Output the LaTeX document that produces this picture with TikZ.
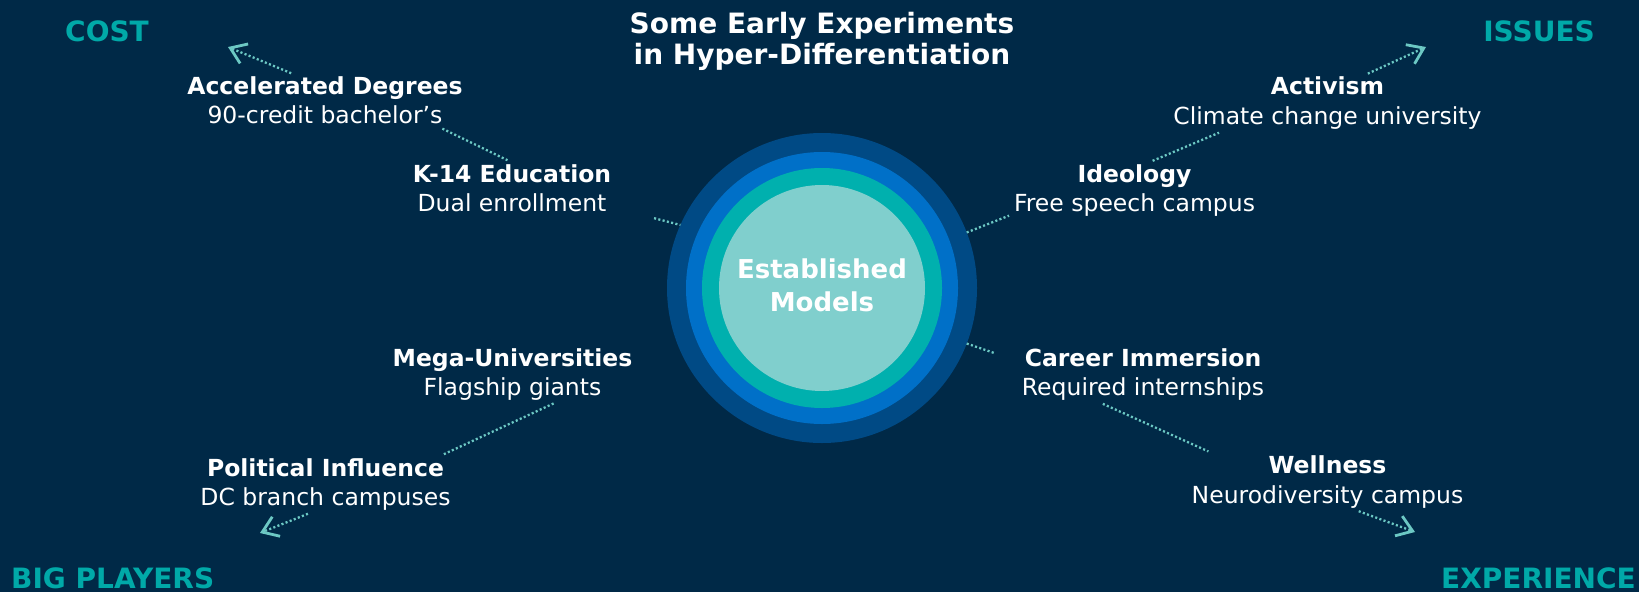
\documentclass[tikz,border=0pt]{standalone}
\usepackage{fontspec}
\setmainfont{DejaVu Sans}
\usepackage{xcolor}
\usetikzlibrary{arrows.meta}

\definecolor{navybg}{HTML}{002947}
\definecolor{ringdark}{HTML}{004A85}
\definecolor{ringblue}{HTML}{0070C8}
\definecolor{ringteal}{HTML}{00B0AE}
\definecolor{corelight}{HTML}{80CFCD}
\definecolor{cornerteal}{HTML}{00A9A8}
\definecolor{dotteal}{HTML}{6CC8C4}

\begin{document}
\begin{tikzpicture}[
        x=1pt, y=-1pt,
        item/.style={align=center, text=white, inner sep=2pt, font=\fontsize{23.5}{29.5}\selectfont},
        corner/.style={text=cornerteal, inner sep=0pt, font=\fontsize{28}{30}\selectfont\bfseries},
        ring/.style={circle, inner sep=0pt, outer sep=0pt, minimum size=#1},
        link/.style={draw=dotteal, line width=2.3pt, dash pattern=on 2.1pt off 2.3pt},
        arrow/.style={link, -{Straight Barb[length=15pt, width=21pt, line width=2.8pt]}}
    ]

    \path[use as bounding box, fill=navybg] (0,0) rectangle (1639,592);

    % Rings
    \node[ring=310pt, fill=ringdark] (outer) at (822,288) {};
    \node[ring=272pt, fill=ringblue] (middle) at (outer) {};
    \node[ring=240pt, fill=ringteal] (inner) at (outer) {};
    \node[ring=206pt, fill=corelight] (core) at (outer) {};
    \node[align=center, text=white, font=\fontsize{26}{33.5}\selectfont\bfseries, yshift=2.5pt] (models) at (core) {Established\\Models};

    % Title and corners
    \node[align=center, text=white, inner sep=0pt, font=\fontsize{28}{31.4}\selectfont\bfseries] (title) at (822,41.5) {Some Early Experiments\\in Hyper-Differentiation};
    \node[corner, anchor=west] (cost) at (65,31.5) {COST};
    \node[corner, anchor=east] (issues) at (1595,31.5) {ISSUES};
    \node[corner, anchor=west] (bigplayers) at (11,578.5) {BIG PLAYERS};
    \node[corner, anchor=east] (experience) at (1636,578.5) {EXPERIENCE};

    % Nodes
    \node[item] (accel) at (325,100.4) {\textbf{Accelerated Degrees}\\90-credit bachelor’s};
    \node[item] (k14) at (512,188) {\textbf{K-14 Education}\\Dual enrollment};
    \node[item] (ideology) at (1134.5,190.7) {\textbf{Ideology}\\Free speech campus};
    \node[item] (activism) at (1327.5,103.2) {\textbf{Activism}\\Climate change university};
    \node[item] (mega) at (512.5,374.7) {\textbf{Mega-Universities}\\Flagship giants};
    \node[item] (career) at (1143,374.7) {\textbf{Career Immersion}\\Required internships};
    \node[item] (political) at (325.5,484.7) {\textbf{Political Influence}\\DC branch campuses};
    \node[item] (wellness) at (1327.5,482.2) {\textbf{Wellness}\\Neurodiversity campus};

    \coordinate (costtip) at (228,47);
    \coordinate (issuestip) at (1426,47);
    \coordinate (bigtip) at (260,533);
    \coordinate (exptip) at (1415,532);

    % Arrows
    \draw[arrow, shorten <=3pt] (accel.140) -- (costtip);
    \draw[link, shorten <=5pt, shorten >=4pt] (accel.-13) -- (k14.92);
    \draw[link, shorten <=42pt] (k14.-11) -- (outer.156);
    \draw[link, shorten >=3pt] (outer.21) -- (ideology.191);
    \draw[link, shorten <=4pt, shorten >=3pt] (ideology.63) -- (activism.195);
    \draw[arrow, shorten <=3pt] (activism.37) -- (issuestip);
    \draw[link, shorten >=26pt] (outer.-21) -- (career.174);
    \draw[link, shorten <=2pt, shorten >=6pt] (career.214) -- (wellness.166);
    \draw[arrow, shorten <=2pt] (wellness.-44) -- (exptip);
    \draw[link, shorten <=1pt, shorten >=4pt] (mega.-34.5) -- (political.14);
    \draw[arrow, shorten <=2pt] (political.241) -- (bigtip);

\end{tikzpicture}
\end{document}
